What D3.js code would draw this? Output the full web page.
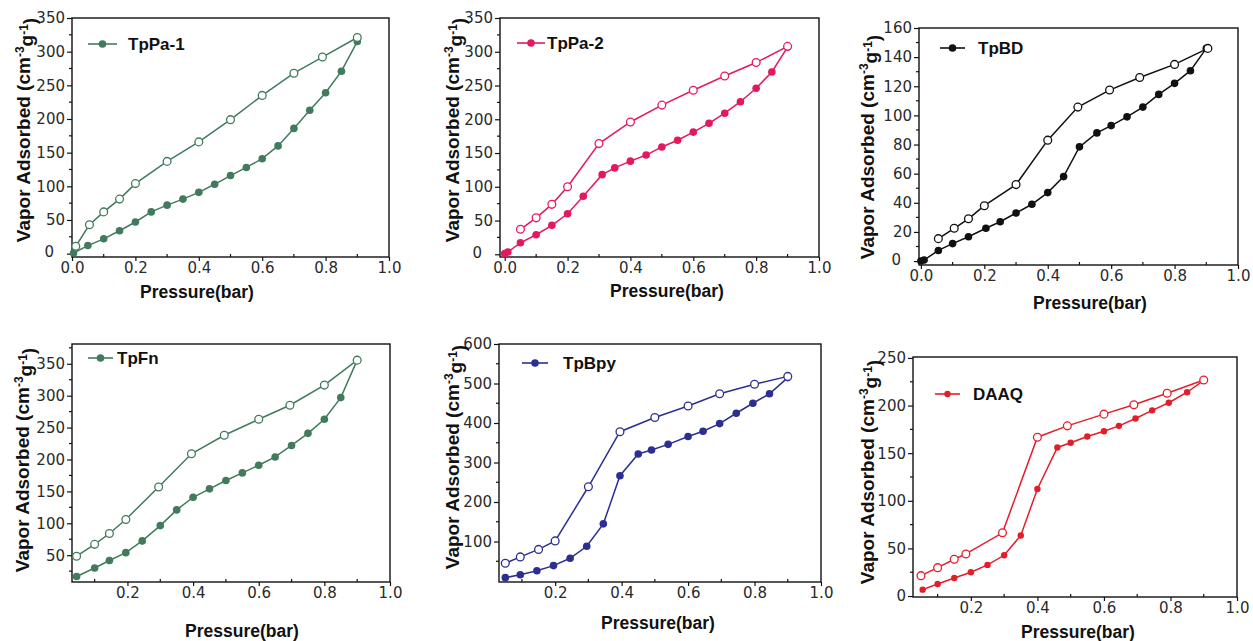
<!DOCTYPE html>
<html>
<head>
<meta charset="utf-8">
<script src="https://cdn.jsdelivr.net/npm/d3@7"></script>
<style>
  html, body { margin: 0; padding: 0; background: #fff; }
  svg { display: block; }
  .tick text { font-family: "DejaVu Sans", sans-serif; font-size: 15px; fill: #2a2a2a; }
  .ttl { font-family: "Liberation Sans", Arial, sans-serif; font-weight: bold; fill: #111; }
</style>
</head>
<body>
<svg id="chart" width="1253" height="641"></svg>
<script>
// ---------------- DATA ----------------
const seriesNames = ["TpPa-1", "TpPa-2", "TpBD", "TpFn", "TpBpy", "DAAQ"];
const seriesColors = ["#417a5c", "#e3195c", "#111111", "#417a5c", "#2b3090", "#e31e2b"];

// TpPa-1
const tppa1AdsP = [0.005, 0.05, 0.1, 0.15, 0.2, 0.25, 0.3, 0.35, 0.4, 0.45, 0.5, 0.55, 0.6, 0.65, 0.7, 0.75, 0.8, 0.85, 0.9];
const tppa1AdsV = [1, 12, 22, 34, 47, 62, 72, 81, 91, 103, 116, 128, 141, 160, 186, 213, 239, 271, 315];
const tppa1DesP = [0.9, 0.79, 0.7, 0.6, 0.5, 0.4, 0.3, 0.2, 0.15, 0.1, 0.055, 0.012];
const tppa1DesV = [321, 292, 268, 235, 199, 166, 137, 104, 81, 62, 43, 11];

// TpPa-2
const tppa2AdsP = [0, 0.01, 0.05, 0.1, 0.15, 0.2, 0.25, 0.31, 0.35, 0.4, 0.45, 0.5, 0.55, 0.6, 0.65, 0.7, 0.75, 0.8, 0.85, 0.9];
const tppa2AdsV = [1, 3.5, 17, 29, 43, 60, 86, 118, 128, 138, 147, 159, 169, 181, 194, 209, 226, 246, 270, 307];
const tppa2DesP = [0.9, 0.8, 0.7, 0.6, 0.5, 0.4, 0.3, 0.2, 0.15, 0.1, 0.05];
const tppa2DesV = [308, 284, 264, 243, 221, 196, 164, 100, 74, 54, 37];

// TpBD
const tpbdAdsP = [0, 0.01, 0.055, 0.1, 0.15, 0.205, 0.25, 0.3, 0.35, 0.4, 0.45, 0.5, 0.555, 0.6, 0.65, 0.7, 0.75, 0.8, 0.85, 0.9];
const tpbdAdsV = [0, 0.7, 7.3, 12, 16.7, 22.5, 27, 33, 39, 47, 58, 78.4, 88, 93, 99, 105.7, 114.4, 122, 130.7, 146];
const tpbdDesP = [0.905, 0.8, 0.69, 0.595, 0.495, 0.4, 0.3, 0.2, 0.15, 0.105, 0.055];
const tpbdDesV = [146, 135, 126, 117.4, 105.7, 83, 52.5, 38, 29, 22.5, 15.4];

// TpFn
const tpfnAdsP = [0.045, 0.1, 0.145, 0.195, 0.245, 0.3, 0.35, 0.4, 0.45, 0.5, 0.55, 0.6, 0.65, 0.7, 0.75, 0.8, 0.85, 0.9];
const tpfnAdsV = [16.6, 30, 41.7, 54, 72.4, 96.4, 121, 140.8, 154, 167, 179, 191, 204, 222, 241, 263, 297, 355.7];
const tpfnDesP = [0.9, 0.8, 0.695, 0.6, 0.495, 0.395, 0.295, 0.195, 0.145, 0.1, 0.045];
const tpfnDesV = [355.7, 316.6, 285, 263, 238, 209, 157, 106, 84, 67, 48.4];

// TpBpy
const tpbpyAdsP = [0.05, 0.095, 0.145, 0.195, 0.245, 0.295, 0.345, 0.395, 0.45, 0.49, 0.54, 0.6, 0.645, 0.695, 0.745, 0.795, 0.845, 0.9];
const tpbpyAdsV = [8.5, 16, 26, 39, 57.5, 88, 144.7, 266.5, 321.5, 331.6, 346, 366, 379, 398.5, 424.7, 450, 474, 515];
const tpbpyDesP = [0.9, 0.8, 0.695, 0.6, 0.5, 0.395, 0.3, 0.2, 0.15, 0.095, 0.05];
const tpbpyDesV = [518, 498, 474, 443, 414, 378, 238.6, 101.5, 80, 61, 45];

// DAAQ
const daaqAdsP = [0.055, 0.1, 0.15, 0.2, 0.25, 0.3, 0.35, 0.4, 0.46, 0.5, 0.55, 0.6, 0.645, 0.695, 0.745, 0.795, 0.85, 0.9];
const daaqAdsV = [6.7, 12.6, 19, 25, 32.7, 42.8, 63.6, 112.4, 156, 161, 167.5, 173, 178.7, 186.4, 195, 203, 214, 226.5];
const daaqDesP = [0.9, 0.79, 0.69, 0.6, 0.49, 0.4, 0.295, 0.185, 0.15, 0.1, 0.05];
const daaqDesV = [226.8, 213, 200.8, 191, 178.7, 166.8, 66.4, 44.2, 38.6, 29.8, 21.4];

// Tick labels
const xTicksFull = [0, 0.2, 0.4, 0.6, 0.8, 1.0];
const xTicksShort = [0.2, 0.4, 0.6, 0.8, 1.0];
const yTicks350 = [0, 50, 100, 150, 200, 250, 300, 350];
const yTicks160 = [0, 20, 40, 60, 80, 100, 120, 140, 160];
const yTicksFn = [50, 100, 150, 200, 250, 300, 350];
const yTicksBpy = [100, 200, 300, 400, 500, 600];
const yTicksDaaq = [0, 50, 100, 150, 200, 250];

const xTitle = "Pressure(bar)";

// ---------------- LAYOUT ----------------
const panels = [
  { name: seriesNames[0], color: seriesColors[0], ads: [tppa1AdsP, tppa1AdsV], des: [tppa1DesP, tppa1DesV],
    box: [72, 389, 18, 257], xd: [0, 1.0], yd: [-5, 350], xt: xTicksFull, yt: yTicks350, ym: 25, ys: 50,
    leg: [88, 117, 44, 128], xT: [197, 298], yT: [23, 130], r: 3.8 },
  { name: seriesNames[1], color: seriesColors[1], ads: [tppa2AdsP, tppa2AdsV], des: [tppa2DesP, tppa2DesV],
    box: [500, 819, 18, 257], xd: [-0.015, 1.0], yd: [-4, 350], xt: xTicksFull, yt: yTicks350, ym: 25, ys: 50,
    leg: [517, 545, 43, 547], xT: [667, 297], yT: [452, 130], r: 3.8 },
  { name: seriesNames[2], color: seriesColors[2], ads: [tpbdAdsP, tpbdAdsV], des: [tpbdDesP, tpbdDesV],
    box: [919, 1238, 28, 265], xd: [-0.006, 1.0], yd: [-2.7, 160], xt: xTicksFull, yt: yTicks160, ym: 10, ys: 20,
    leg: [940, 965, 48, 978], xT: [1090, 309], yT: [867, 147], r: 3.8 },
  { name: seriesNames[3], color: seriesColors[3], ads: [tpfnAdsP, tpfnAdsV], des: [tpfnDesP, tpfnDesV],
    box: [72, 390, 344, 582], xd: [0.031, 1.0], yd: [8, 381], xt: xTicksShort, yt: yTicksFn, ym: 25, ys: 50,
    leg: [88, 113, 358, 117], xT: [242, 637], yT: [22, 460], r: 3.8 },
  { name: seriesNames[4], color: seriesColors[4], ads: [tpbpyAdsP, tpbpyAdsV], des: [tpbpyDesP, tpbpyDesV],
    box: [499, 821, 344, 582], xd: [0.031, 1.0], yd: [-2.5, 600], xt: xTicksShort, yt: yTicksBpy, ym: 50, ys: 100,
    leg: [522, 548, 363, 563], xT: [658, 629], yT: [452, 457], r: 3.8 },
  { name: seriesNames[5], color: seriesColors[5], ads: [daaqAdsP, daaqAdsV], des: [daaqDesP, daaqDesV],
    box: [913, 1237, 357, 597], xd: [0.026, 1.0], yd: [-1, 251], xt: xTicksShort, yt: yTicksDaaq, ym: 25, ys: 50,
    leg: [935, 960, 394, 973], xT: [1078, 638], yT: [867, 472], r: 3.2 }
];

const svg = d3.select("#chart");

panels.forEach(p => {
  const [L, R, T, B] = p.box;
  const x = d3.scaleLinear().domain(p.xd).range([L, R]);
  const y = d3.scaleLinear().domain(p.yd).range([B, T]);
  const g = svg.append("g");

  // frame
  g.append("rect").attr("x", L).attr("y", T).attr("width", R - L).attr("height", B - T)
    .attr("fill", "none").attr("stroke", "#111").attr("stroke-width", 1.4);

  // y minor ticks
  const yMinor = d3.range(Math.ceil(p.yd[0] / p.ym) * p.ym, p.yd[1] + 0.001, p.ym)
    .filter(v => Math.abs(v / p.ys - Math.round(v / p.ys)) > 1e-6 && v >= p.yd[0]);
  g.selectAll(".ymin").data(yMinor).join("line")
    .attr("x1", L - 3).attr("x2", L).attr("y1", d => y(d)).attr("y2", d => y(d))
    .attr("stroke", "#111").attr("stroke-width", 1.2);

  // x minor ticks
  const xMinor = d3.range(0.1, 1.0, 0.2).filter(v => v >= p.xd[0]);
  g.selectAll(".xmin").data(xMinor).join("line")
    .attr("x1", d => x(d)).attr("x2", d => x(d)).attr("y1", B).attr("y2", B - 3)
    .attr("stroke", "#111").attr("stroke-width", 1.2);

  // axes
  const ya = g.append("g").attr("transform", `translate(${L},0)`)
    .call(d3.axisLeft(y).tickValues(p.yt).tickSize(5).tickPadding(2).tickSizeOuter(0).tickFormat(d3.format("d")));
  ya.select(".domain").remove();
  ya.selectAll(".tick line").attr("stroke", "#111").attr("stroke-width", 1.2);
  // the "0" label sits further left when the x axis also starts with "0.0"
  if (p.xt[0] === 0) {
    ya.selectAll(".tick text").filter(d => d === 0).attr("dx", -11).attr("dy", "0.2em");
  }

  const xa = g.append("g").attr("transform", `translate(0,${B})`)
    .call(d3.axisBottom(x).tickValues(p.xt).tickSize(4).tickPadding(1).tickSizeOuter(0).tickFormat(d3.format(".1f")));
  xa.select(".domain").remove();
  xa.selectAll(".tick line").attr("stroke", "#111").attr("stroke-width", 1.2);

  // lines
  const line = d3.line().x(d => x(d[0])).y(d => y(d[1]));
  const ads = p.ads[0].map((v, i) => [v, p.ads[1][i]]);
  const des = p.des[0].map((v, i) => [v, p.des[1][i]]);
  g.append("path").datum(ads).attr("d", line).attr("fill", "none").attr("stroke", p.color).attr("stroke-width", 1.5);
  g.append("path").datum(des).attr("d", line).attr("fill", "none").attr("stroke", p.color).attr("stroke-width", 1.5);

  g.selectAll(".ads").data(ads).join("circle")
    .attr("cx", d => x(d[0])).attr("cy", d => y(d[1])).attr("r", p.r).attr("fill", p.color);
  g.selectAll(".des").data(des).join("circle")
    .attr("cx", d => x(d[0])).attr("cy", d => y(d[1])).attr("r", 3.9)
    .attr("fill", "#fff").attr("stroke", p.color).attr("stroke-width", 1.3);

  // legend
  const [lx1, lx2, ly, tx] = p.leg;
  g.append("line").attr("x1", lx1).attr("x2", lx2).attr("y1", ly).attr("y2", ly)
    .attr("stroke", p.color).attr("stroke-width", 1.6);
  g.append("circle").attr("cx", (lx1 + lx2) / 2).attr("cy", ly).attr("r", p.r).attr("fill", p.color);
  g.append("text").attr("class", "ttl").attr("x", tx).attr("y", ly).attr("dy", "0.36em")
    .style("font-size", "17px").text(p.name);

  // x title
  g.append("text").attr("class", "ttl").attr("x", p.xT[0]).attr("y", p.xT[1])
    .attr("text-anchor", "middle").style("font-size", "17.5px").text(xTitle);

  // y title
  const yt = g.append("text").attr("class", "ttl")
    .attr("transform", `translate(${p.yT[0]},${p.yT[1]}) rotate(-90)`)
    .attr("text-anchor", "middle").attr("dy", "0.36em").style("font-size", "19px");
  yt.append("tspan").text("Vapor Adsorbed (cm");
  yt.append("tspan").attr("dy", "-0.45em").style("font-size", "12px").text("-3");
  yt.append("tspan").attr("dy", "0.45em").text("g");
  yt.append("tspan").attr("dy", "-0.45em").style("font-size", "12px").text("-1");
  yt.append("tspan").attr("dy", "0.45em").text(")");
});
</script>
</body>
</html>
